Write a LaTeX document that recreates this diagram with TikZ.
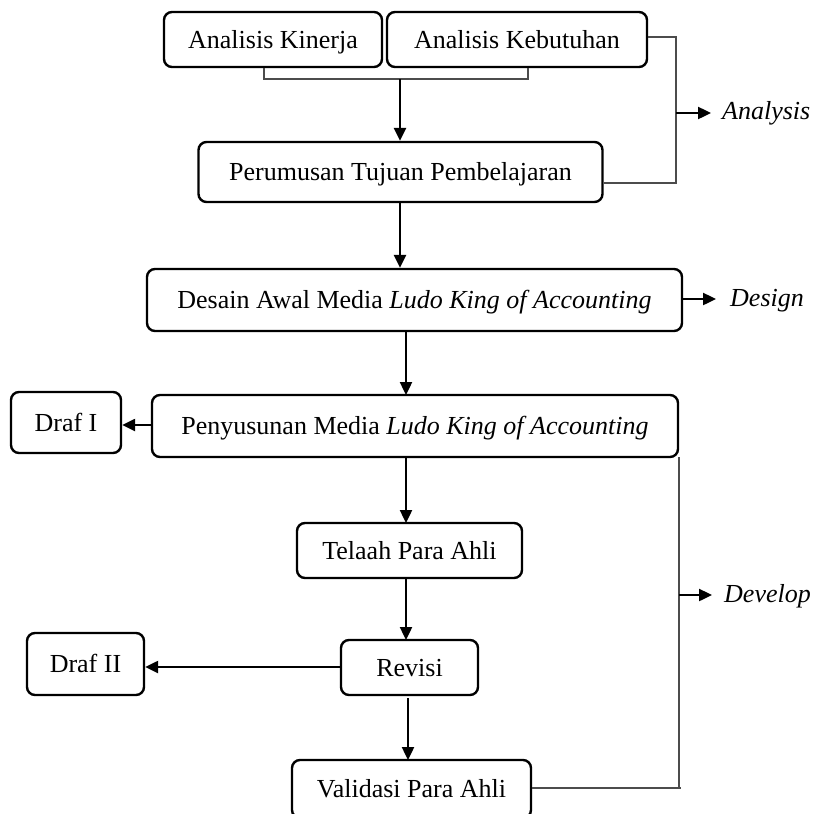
\documentclass[tikz,border=0pt]{standalone}
\usepackage{fontspec}
\setmainfont{Liberation Serif}
\usetikzlibrary{arrows.meta}
\begin{document}
\begin{tikzpicture}[x=1pt,y=-1pt,
  box/.style={draw,line width=2.4pt,rounded corners=8pt,inner sep=0pt,align=center,
    text height=17pt,text depth=0pt,font=\fontsize{26}{30}\selectfont},
  arr/.style={line width=2.4pt,-{Triangle[length=13pt,width=12pt]}},
  brk/.style={line width=1.2pt,draw=black!70},
  lbl/.style={anchor=west,inner sep=0pt,text height=17pt,text depth=0pt,
    font=\fontsize{26}{30}\selectfont\itshape}]
\useasboundingbox (0,0) rectangle (814,814);
\node[box,minimum width=218pt,minimum height=55pt] (kin) at (273,39.5) {Analisis Kinerja};
\node[box,minimum width=260pt,minimum height=55pt] (keb) at (517,39.5) {Analisis Kebutuhan};
\node[box,minimum width=404pt,minimum height=60pt] (per) at (400.5,172) {Perumusan Tujuan Pembelajaran};
\node[box,minimum width=535pt,minimum height=62pt] (des) at (414.5,300) {Desain Awal Media \textit{Ludo King of Accounting}};
\node[box,minimum width=526pt,minimum height=62pt] (pen) at (415,426) {Penyusunan Media \textit{Ludo King of Accounting}};
\node[box,minimum width=110pt,minimum height=61pt] (d1) at (66,422.5) {Draf I};
\node[box,minimum width=225pt,minimum height=55pt] (tel) at (409.5,550.5) {Telaah Para Ahli};
\node[box,minimum width=137pt,minimum height=55pt] (rev) at (409.5,667.5) {Revisi};
\node[box,minimum width=117pt,minimum height=62pt] (d2) at (85.5,664) {Draf II};
\node[box,minimum width=239pt,minimum height=58pt] (val) at (411.5,789) {Validasi Para Ahli};
% analysis group
\coordinate (kb) at (264,79);
\coordinate (bb) at (528,79);
\draw[brk] (kin.south -| kb) -- (kb) -- (bb) -- (keb.south -| bb);
\coordinate (mid) at (400,79);
\draw[arr] (mid) -- (mid |- per.north);
\coordinate (ar1) at (676,37);
\coordinate (ar2) at (676,183);
\draw[brk] (keb.east |- ar1) -- (ar1) -- (ar2) -- (per.east |- ar2);
\coordinate (aa) at (676,113);
\node[lbl] (ana) at (722,111) {Analysis};
\draw[arr] (aa) -- (711,113);
% design
\draw[arr] (per.south -| mid) -- (mid |- des.north);
\coordinate (dd) at (716,299);
\node[lbl] (dsg) at (730,298) {Design};
\draw[arr] (des.east |- dd) -- (dd);
\draw[arr] (406,331) -- (406,395);
% develop
\draw[arr] (152,425) -- (d1.east |- 0,425);
\draw[arr] (406,457) -- (406,523);
\draw[arr] (406,578) -- (406,640);
\draw[arr] (341,667) -- (d2.east |- 0,667);
\draw[arr] (408,698) -- (408,760);
\coordinate (dv1) at (679,457);
\coordinate (dv2) at (679,788);
\draw[brk] (dv1) -- (dv2);
\draw[brk] (val.east |- dv2) -- (681,788);
\node[lbl] (dev) at (724,594) {Develop};
\draw[arr] (679,595) -- (712,595);
\end{tikzpicture}
\end{document}
